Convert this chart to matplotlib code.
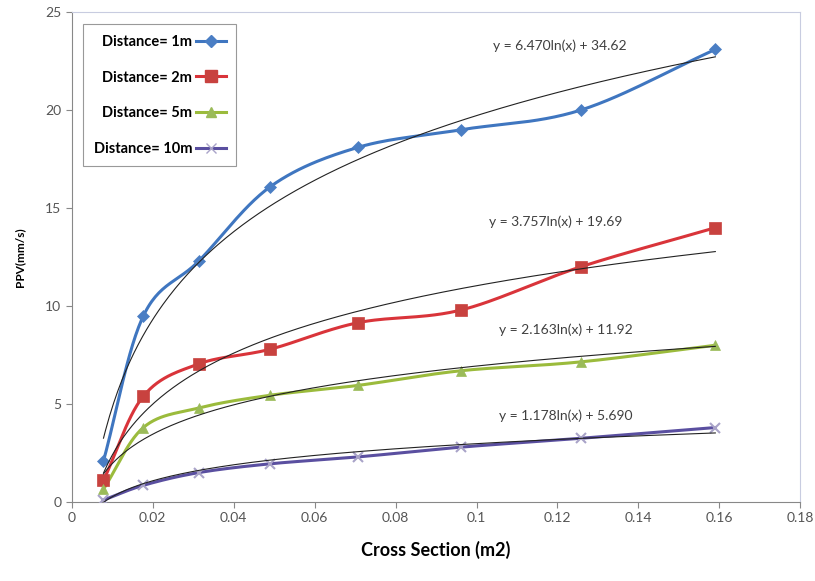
import numpy as np
import matplotlib
matplotlib.use("Agg")
import matplotlib.pyplot as plt

plt.rcParams['font.family'] = ['Lato', 'DejaVu Sans']

# cross sections of the holes (m2) and measured PPV (mm/s)
section = [0.00785, 0.0177, 0.0314, 0.0491, 0.0707, 0.0962, 0.1257, 0.159]
ppv_1m = [2.1, 9.5, 12.3, 16.1, 18.1, 19.0, 20.0, 23.1]
ppv_2m = [1.1, 5.4, 7.05, 7.8, 9.15, 9.8, 12.0, 14.0]
ppv_5m = [0.65, 3.8, 4.8, 5.45, 5.95, 6.7, 7.15, 8.0]
ppv_10m = [0.1, 0.85, 1.5, 1.95, 2.3, 2.8, 3.25, 3.8]

labels = ['Distance= 1m', 'Distance= 2m', 'Distance= 5m', 'Distance= 10m']
# log trendline coefficients: y = a ln(x) + b
fit_a = [6.470, 3.757, 2.163, 1.178]
fit_b = [34.62, 19.69, 11.92, 5.690]
eq_text = ['y = 6.470ln(x) + 34.62', 'y = 3.757ln(x) + 19.69',
           'y = 2.163ln(x) + 11.92', 'y = 1.178ln(x) + 5.690']
eq_pos = [(0.1205, 23.3), (0.1195, 14.3), (0.122, 8.8), (0.122, 4.4)]

colors = ['#3f76c0', '#d9343a', '#9bbb3c', '#5a4fa0']
mcolors = ['#4a7ec4', '#c8423f', '#9bbb59', '#a9a3c8']
markers = ['D', 's', '^', 'x']
msizes = [6, 8, 7, 7]


def smooth(x, y, n=30):
    # Catmull-Rom style curve through the points (like a spreadsheet "smoothed line")
    x = np.asarray(x); y = np.asarray(y)
    px = np.concatenate([[2*x[0]-x[1]], x, [2*x[-1]-x[-2]]])
    py = np.concatenate([[2*y[0]-y[1]], y, [2*y[-1]-y[-2]]])
    xs, ys = [], []
    t = np.linspace(0, 1, n)
    for i in range(1, len(px)-2):
        tx = 0.5*(px[i+1]-px[i-1]); ty = 0.5*(py[i+1]-py[i-1])
        tx2 = 0.5*(px[i+2]-px[i]); ty2 = 0.5*(py[i+2]-py[i])
        h00 = 2*t**3-3*t**2+1; h10 = t**3-2*t**2+t
        h01 = -2*t**3+3*t**2; h11 = t**3-t**2
        xs.append(h00*px[i]+h10*tx+h01*px[i+1]+h11*tx2)
        ys.append(h00*py[i]+h10*ty+h01*py[i+1]+h11*ty2)
    return np.concatenate(xs), np.concatenate(ys)


fig = plt.figure(figsize=(8.15, 5.81), dpi=100)
ax = fig.add_axes([0.088, 0.136, 0.894, 0.843])

series = [ppv_1m, ppv_2m, ppv_5m, ppv_10m]
xx = np.linspace(section[0], section[-1], 300)
for i, yv in enumerate(series):
    sx, sy = smooth(section, yv)
    ax.plot(sx, sy, color=colors[i], lw=2.2, zorder=3)
    ax.plot(section, yv, linestyle='none', marker=markers[i], ms=msizes[i],
            color=mcolors[i], mew=1.5 if markers[i] == 'x' else 0.5, zorder=4)
    ax.plot([], [], color=colors[i], lw=2.2, marker=markers[i], ms=msizes[i],
            mfc=mcolors[i], mec=mcolors[i], label=labels[i])
    ax.plot(xx, fit_a[i]*np.log(xx)+fit_b[i], color='#222222', lw=0.8, zorder=5)
    ax.text(eq_pos[i][0], eq_pos[i][1], eq_text[i],
            ha='center', va='center', fontsize=10, color='#404040')

ax.set_xlim(0, 0.18)
ax.set_ylim(0, 25)
ax.set_xticks(np.arange(0, 0.181, 0.02))
ax.set_xticklabels(['0', '0.02', '0.04', '0.06', '0.08', '0.1', '0.12', '0.14', '0.16', '0.18'])
ax.set_yticks([0, 5, 10, 15, 20, 25])
ax.tick_params(colors='#888888', labelcolor='#555555', labelsize=10, length=4)
for s in ['left', 'bottom']:
    ax.spines[s].set_color('#888888')
for s in ['top', 'right']:
    ax.spines[s].set_color('#c8cce0')
ax.set_xlabel('Cross Section (m2)', fontsize=13, fontweight='bold', labelpad=12)
ax.set_ylabel('PPV(mm/s)', fontsize=8.5, fontweight='bold', labelpad=14)

leg = ax.legend(loc='upper left', bbox_to_anchor=(0.016, 0.975), borderaxespad=0,
                markerfirst=False, fancybox=False, edgecolor='#999999', framealpha=1,
                prop={'weight': 'bold', 'size': 10.5}, labelspacing=1.5,
                handlelength=2.0, borderpad=0.7, handletextpad=0.3)
leg.get_frame().set_linewidth(0.8)

fig.savefig('out.png', dpi=100)
